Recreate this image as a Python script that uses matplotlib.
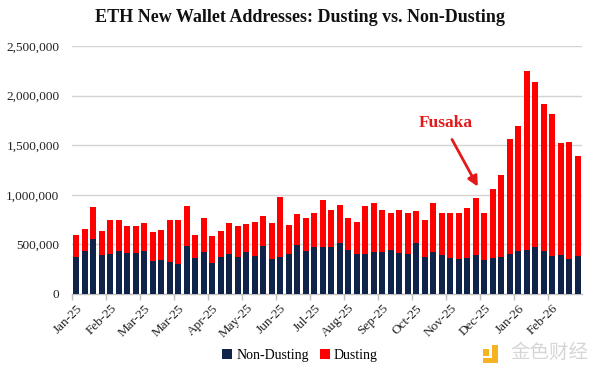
import matplotlib
matplotlib.use("Agg")
import matplotlib.pyplot as plt
import numpy as np
from matplotlib.patches import Rectangle

# ---- data (weekly, values in addresses) ----
tick_labels = ["Jan-25", "Feb-25", "Mar-25", "Mar-25", "Apr-25", "May-25", "Jun-25",
               "Jul-25", "Aug-25", "Sep-25", "Oct-25", "Nov-25", "Dec-25", "Jan-26", "Feb-26"]

non_dusting = [374, 431, 556, 394, 404, 437, 411, 417, 431, 337, 347, 323, 306, 482, 364,
               426, 315, 377, 407, 377, 424, 384, 485, 357, 371, 404, 492, 437, 474, 474,
               472, 512, 448, 404, 404, 424, 424, 444, 414, 407, 512, 377, 424, 391, 360,
               358, 360, 392, 343, 365, 374, 405, 429, 444, 476, 435, 384, 389, 354, 384]
dusting = [225, 226, 323, 239, 347, 307, 276, 270, 283, 289, 303, 428, 445, 404, 235,
           339, 271, 261, 313, 310, 283, 343, 303, 363, 609, 296, 311, 328, 341, 479,
           378, 387, 321, 323, 480, 498, 421, 376, 436, 408, 326, 370, 498, 429, 455,
           458, 510, 581, 477, 689, 831, 1158, 1265, 1806, 1662, 1482, 1429, 1138, 1183, 1007]

non_dusting = np.array(non_dusting) * 1000
dusting = np.array(dusting) * 1000

NAVY = "#10244a"
RED = "#ff0000"
SERIF = ["Liberation Serif", "DejaVu Serif"]

fig = plt.figure(figsize=(6, 3.75), dpi=100)
ax = fig.add_axes([0.12, 0.216, 0.85, 0.661])

x = np.arange(len(non_dusting))
w = 0.68
ax.bar(x, non_dusting, width=w, color=NAVY, label="Non-Dusting", zorder=3)
ax.bar(x, dusting, width=w, bottom=non_dusting, color=RED, label="Dusting", zorder=3)

ax.set_xlim(-0.5, len(x) - 0.5)
ax.set_ylim(0, 2500000)
ax.set_yticks(np.arange(0, 2500001, 500000))
ax.set_yticklabels([f"{v:,.0f}" for v in np.arange(0, 2500001, 500000)],
                   fontfamily=SERIF, fontsize=9.5, color="#222222")
ax.yaxis.grid(True, color="#d4d4d4", linewidth=1, zorder=0)
ax.tick_params(axis="y", length=0, pad=9)

# x ticks: labels at every 4th bar center, tick marks at category boundaries
label_pos = np.arange(0, len(x), 4)
ax.set_xticks(label_pos)
ax.set_xticklabels(tick_labels, rotation=45, ha="right", rotation_mode="anchor",
                   fontfamily=SERIF, fontsize=9.5, color="#222222")
ax.tick_params(axis="x", length=0, pad=6)
ax.set_xticks(label_pos - 0.5, minor=True)
ax.tick_params(axis="x", which="minor", length=4, color="#bfbfbf", width=1)

for s in ["top", "right", "left"]:
    ax.spines[s].set_visible(False)
ax.spines["bottom"].set_color("#bfbfbf")
ax.spines["bottom"].set_linewidth(1)

# annotation
ax.text(43.5, 1724000, "Fusaka", color="#e31a1c", fontfamily=SERIF, fontsize=12.5,
        fontweight="bold", ha="center", va="center")
ax.annotate("", xy=(47.4, 1058000), xytext=(44.05, 1583000),
            arrowprops=dict(arrowstyle="-|>,head_length=0.6,head_width=0.3",
                            color="#e31a1c", lw=2))

fig.text(0.5, 0.952, "ETH New Wallet Addresses: Dusting vs. Non-Dusting",
         fontfamily=SERIF, fontsize=13, fontweight="bold", ha="center", va="center",
         color="#111111")

leg = fig.legend(loc="center", bbox_to_anchor=(0.5, 0.053), ncol=2, frameon=False,
                 prop={"family": SERIF, "size": 10}, handlelength=0.7, handleheight=0.7,
                 handletextpad=0.3, columnspacing=0.8)

# watermark (logo + text)
GOLD = "#f5b324"
def px_rect(x0, y0, x1, y1):
    fig.patches.append(Rectangle((x0 / 600, 1 - y1 / 375), (x1 - x0) / 600, (y1 - y0) / 375,
                                 transform=fig.transFigure, facecolor=GOLD,
                                 edgecolor="none"))
px_rect(483, 349, 489, 356)
px_rect(492, 345, 498, 363)
px_rect(483, 358, 498, 363)
fig.text(0.85, 0.059, "金色财经", fontfamily=["Noto Sans CJK SC", "DejaVu Sans"],
         fontsize=14, color="#d6d6d6", ha="left", va="center")

fig.savefig("out.png", dpi=100)
